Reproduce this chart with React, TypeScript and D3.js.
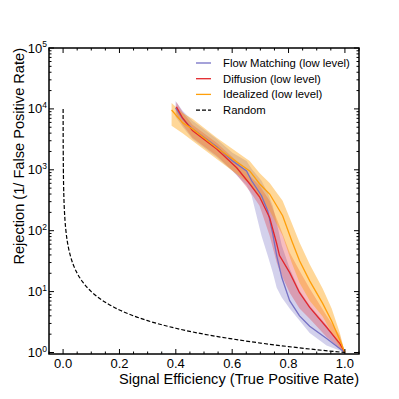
import { useRef, useEffect } from 'react';
import * as d3 from 'd3';

// Flow Matching (low level)
const flowEff = [0.399, 0.424, 0.459, 0.545, 0.601, 0.651, 0.669, 0.704, 0.726, 0.744, 0.758, 0.776, 0.804, 0.839, 0.875, 0.935, 1.0];
const flowRej = [10400, 6900, 4700, 2400, 1400, 960, 660, 375, 213, 89, 39, 17, 7.1, 4.0, 2.7, 1.7, 1];
const flowHi = [13500, 9300, 6400, 3200, 1900, 1400, 1040, 660, 420, 257, 135, 57, 24, 10.4, 5.9, 2.8, 1];
const flowLo = [7400, 5100, 3200, 1600, 960, 550, 375, 83, 39, 20.5, 11.6, 8.0, 5.3, 3.35, 2.1, 1.3, 1];

// Diffusion (low level)
const diffEff = [0.402, 0.424, 0.459, 0.545, 0.616, 0.662, 0.697, 0.733, 0.758, 0.768, 0.804, 0.839, 0.875, 0.935, 0.982, 1.0];
const diffRej = [10800, 7100, 4400, 2200, 1080, 590, 360, 163, 61, 39, 20.5, 9.6, 5.5, 2.6, 1.4, 1];
const diffHi = [13000, 8900, 5500, 2770, 1400, 800, 550, 310, 157, 121, 44, 22, 11.2, 4.0, 1.9, 1];
const diffLo = [8300, 5500, 3350, 1700, 830, 450, 257, 83, 30, 22, 9.6, 5.3, 3.6, 1.8, 1.15, 1];

// Idealized (low level)
const idealEff = [0.385, 0.424, 0.459, 0.545, 0.662, 0.697, 0.733, 0.779, 0.811, 0.839, 0.875, 0.921, 0.953, 0.982, 1.0];
const idealRej = [9600, 5900, 4700, 2300, 960, 590, 400, 176, 69, 32, 15, 6.4, 3.3, 1.6, 1];
const idealHi = [12500, 8600, 6900, 3350, 1400, 890, 610, 310, 135, 64, 28, 11.2, 5.3, 2.1, 1];
const idealLo = [5300, 4000, 3000, 1500, 590, 335, 213, 83, 30, 14, 7.1, 3.9, 2.1, 1.2, 1];

// Random classifier
const randomEff = [0.0001, 0.0002, 0.0005, 0.001, 0.002, 0.003, 0.005, 0.007, 0.01, 0.015, 0.02, 0.03, 0.04, 0.05, 0.07, 0.1, 0.13, 0.16, 0.2, 0.25, 0.3, 0.4, 0.5, 0.6, 0.7, 0.8, 0.9, 1.0];
const randomRej = [10000, 5000, 2000, 1000, 500, 333, 200, 143, 100, 66.7, 50, 33.3, 25, 20, 14.3, 10, 7.69, 6.25, 5, 4, 3.33, 2.5, 2, 1.67, 1.43, 1.25, 1.11, 1];

const xTicks = [0, 0.2, 0.4, 0.6, 0.8, 1.0];
const xTickLabels = ['0.0', '0.2', '0.4', '0.6', '0.8', '1.0'];
const yTicks = [1, 10, 100, 1000, 10000, 100000];
const yTickExps = ['0', '1', '2', '3', '4', '5'];

const FONT = '"Liberation Sans", Arial, Helvetica, sans-serif';

export default function App() {
  const svgRef = useRef(null);

  useEffect(() => {
    const W = 399, H = 399;
    const left = 49, right = 359, top = 48, bottom = 354;

    const svg = d3.select(svgRef.current)
      .html('')
      .attr('width', W)
      .attr('height', H);

    const x = d3.scaleLinear().domain([-0.05, 1.05]).range([left, right]);
    const y = d3.scaleLog().domain([0.945, 1e5]).range([bottom, top]);

    const series = [
      { name: 'Flow Matching (low level)', eff: flowEff, rej: flowRej, hi: flowHi, lo: flowLo, color: '#7570c4', band: 0.32 },
      { name: 'Diffusion (low level)', eff: diffEff, rej: diffRej, hi: diffHi, lo: diffLo, color: '#e3262b', band: 0.3 },
      { name: 'Idealized (low level)', eff: idealEff, rej: idealRej, hi: idealHi, lo: idealLo, color: '#ff9f0a', band: 0.42 },
    ];

    const clip = svg.append('defs').append('clipPath').attr('id', 'plotclip');
    clip.append('rect').attr('x', left).attr('y', top).attr('width', right - left).attr('height', bottom - top);

    const plot = svg.append('g').attr('clip-path', 'url(#plotclip)');

    // bands
    series.forEach(s => {
      const area = d3.area<number>()
        .x(i => x(s.eff[i]))
        .y0(i => y(s.lo[i]))
        .y1(i => y(s.hi[i]));
      plot.append('path')
        .datum(d3.range(s.eff.length))
        .attr('fill', s.color)
        .attr('fill-opacity', s.band)
        .attr('d', area);
    });

    // lines
    series.forEach(s => {
      const line = d3.line<number>()
        .x(i => x(s.eff[i]))
        .y(i => y(s.rej[i]));
      plot.append('path')
        .datum(d3.range(s.eff.length))
        .attr('fill', 'none')
        .attr('stroke', s.color)
        .attr('stroke-width', 1.3)
        .attr('d', line);
    });

    // random
    const randLine = d3.line<number>()
      .x(i => x(randomEff[i]))
      .y(i => y(randomRej[i]))
      .curve(d3.curveMonotoneX);
    plot.append('path')
      .datum(d3.range(randomEff.length))
      .attr('fill', 'none')
      .attr('stroke', '#000')
      .attr('stroke-width', 1.2)
      .attr('stroke-dasharray', '4,2')
      .attr('d', randLine);

    // ticks (inward, all sides)
    const tg = svg.append('g').attr('stroke', '#000').attr('stroke-width', 1);
    const xMinor = d3.range(-0.05, 1.0501, 0.05).filter(v => !xTicks.some(t => Math.abs(t - v) < 1e-6));
    xTicks.forEach(v => {
      tg.append('line').attr('x1', x(v)).attr('x2', x(v)).attr('y1', bottom).attr('y2', bottom - 5);
      tg.append('line').attr('x1', x(v)).attr('x2', x(v)).attr('y1', top).attr('y2', top + 5);
    });
    xMinor.forEach(v => {
      tg.append('line').attr('x1', x(v)).attr('x2', x(v)).attr('y1', bottom).attr('y2', bottom - 2.5);
      tg.append('line').attr('x1', x(v)).attr('x2', x(v)).attr('y1', top).attr('y2', top + 2.5);
    });
    yTicks.forEach(v => {
      tg.append('line').attr('x1', left).attr('x2', left + 5).attr('y1', y(v)).attr('y2', y(v));
      tg.append('line').attr('x1', right).attr('x2', right - 5).attr('y1', y(v)).attr('y2', y(v));
    });
    const yMinor = [];
    [1, 10, 100, 1000, 10000].forEach(d => d3.range(2, 10).forEach(k => yMinor.push(d * k)));
    yMinor.forEach(v => {
      tg.append('line').attr('x1', left).attr('x2', left + 2.5).attr('y1', y(v)).attr('y2', y(v));
      tg.append('line').attr('x1', right).attr('x2', right - 2.5).attr('y1', y(v)).attr('y2', y(v));
    });

    // frame
    svg.append('rect')
      .attr('x', left).attr('y', top)
      .attr('width', right - left).attr('height', bottom - top)
      .attr('fill', 'none').attr('stroke', '#000').attr('stroke-width', 1.5);

    // tick labels
    xTicks.forEach((v, i) => {
      svg.append('text')
        .attr('x', x(v)).attr('y', bottom + 14)
        .attr('text-anchor', 'middle')
        .attr('font-family', FONT).attr('font-size', 13)
        .attr('fill', '#000')
        .text(xTickLabels[i]);
    });
    yTicks.forEach((v, i) => {
      const t = svg.append('text')
        .attr('x', left - 2).attr('y', y(v) + 4.5)
        .attr('text-anchor', 'end')
        .attr('font-family', FONT).attr('font-size', 13)
        .attr('fill', '#000');
      t.append('tspan').text('10');
      t.append('tspan').attr('font-size', 8.5).attr('dy', -5.5).text(yTickExps[i]);
    });

    // axis labels
    svg.append('text')
      .attr('x', right).attr('y', 384)
      .attr('text-anchor', 'end')
      .attr('font-family', FONT).attr('font-size', 14.6)
      .attr('fill', '#000')
      .text('Signal Efficiency (True Positive Rate)');

    svg.append('text')
      .attr('transform', `translate(24,${top}) rotate(-90)`)
      .attr('text-anchor', 'end')
      .attr('font-family', FONT).attr('font-size', 14.6)
      .attr('fill', '#000')
      .text('Rejection (1/ False Positive Rate)');

    // legend
    const legend = [
      ...series.map(s => ({ name: s.name, color: s.color, dash: null })),
      { name: 'Random', color: '#000', dash: '4,2' },
    ];
    legend.forEach((d, i) => {
      const ly = 63 + i * 15.7;
      svg.append('line')
        .attr('x1', 196).attr('x2', 211)
        .attr('y1', ly).attr('y2', ly)
        .attr('stroke', d.color)
        .attr('stroke-width', 1.3)
        .attr('stroke-dasharray', d.dash);
      svg.append('text')
        .attr('x', 223).attr('y', ly + 4)
        .attr('font-family', FONT).attr('font-size', 11.3)
        .attr('fill', '#000')
        .text(d.name);
    });
  }, []);

  return (
    <div style={{ position: 'absolute', left: 0, top: 0 }}>
      <svg ref={svgRef} style={{ display: 'block', background: '#fff' }} />
    </div>
  );
}
